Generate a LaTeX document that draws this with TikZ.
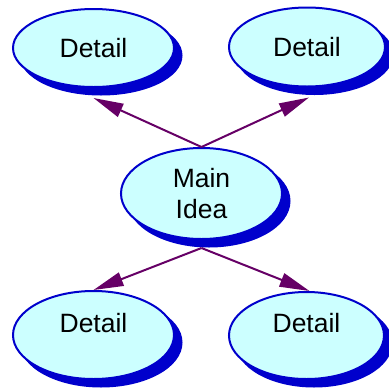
\documentclass[tikz,border=0pt]{standalone}
\usepackage{fontspec}
\setmainfont{Liberation Sans}
\usetikzlibrary{shapes.geometric,shadows,arrows.meta,calc}
\definecolor{bubblefill}{HTML}{CCFFFF}
\definecolor{bubbleedge}{HTML}{0000CC}
\definecolor{linkcol}{HTML}{660066}
\begin{document}
\begin{tikzpicture}[x=1pt,y=-1pt,
  bubble/.style={ellipse, inner sep=0pt, fill=bubblefill, draw=bubbleedge,
    line width=2pt,
    copy shadow={shadow xshift=7.5pt, shadow yshift=-7.5pt,
      fill=bubbleedge, draw=bubbleedge}},
  txt/.style={inner sep=0pt, align=center,
    font=\fontsize{26.5}{31}\selectfont},
  link/.style={draw=linkcol, line width=2pt,
    -{Triangle[length=30pt,width=14pt]}}]
  \useasboundingbox (0,0) rectangle (389,392);

  % bubbles
  \node[bubble, minimum width=161pt, minimum height=78pt] (tl) at (93.5,48) {};
  \node[bubble, minimum width=156pt, minimum height=79pt] (tr) at (307,47) {};
  \node[bubble, minimum width=161pt, minimum height=91pt] (main) at (201.5,193.5) {};
  \node[bubble, minimum width=161pt, minimum height=88pt] (bl) at (93.5,335) {};
  \node[bubble, minimum width=155pt, minimum height=87pt] (br) at (306.5,335.5) {};

  % texts
  \node[txt] (tltext) at (tl.center) {Detail};
  \node[txt] (trtext) at (tr.center) {Detail};
  \node[txt] (maintext) at (main.center) {Main\\Idea};
  \node[txt] (bltext) at (93.5,323) {Detail};
  \node[txt] (brtext) at (306.5,323) {Detail};

  % connector end points below the shadows
  \coordinate (tltip) at ($(tl.south)+(0,10)$);
  \coordinate (trtip) at ($(tr.south)+(2,10)$);
  \coordinate (mainfoot) at ($(main.south)+(0,8)$);
  \coordinate (brtip) at ($(br.north)+(3,0)$);

  % connectors
  \draw[link] (main.north) -- (tltip);
  \draw[link] (main.north) -- (trtip);
  \draw[link] (mainfoot) -- (bl.north);
  \draw[link] (mainfoot) -- (brtip);
\end{tikzpicture}
\end{document}
